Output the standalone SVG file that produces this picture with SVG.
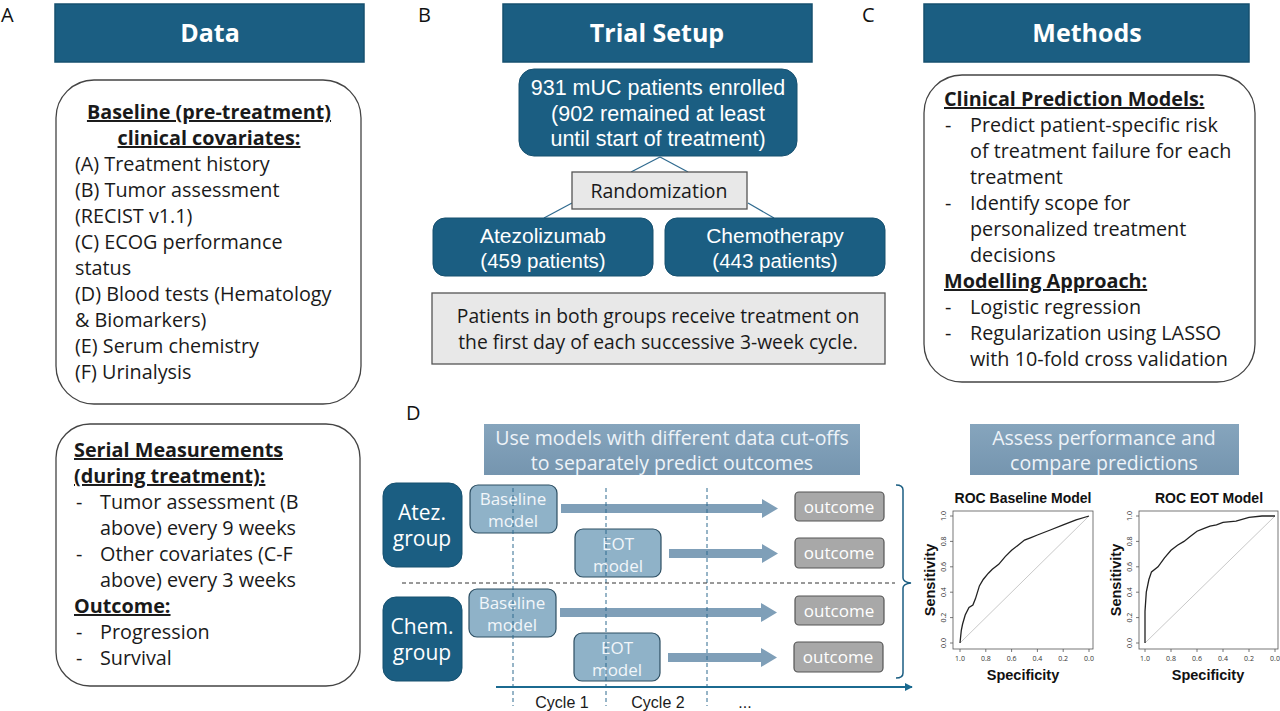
<svg xmlns="http://www.w3.org/2000/svg" width="1280" height="711" viewBox="0 0 1280 711">
<defs>
<style>
text{font-family:"Open Sans","Liberation Sans",Arial,sans-serif;}
.ar{font-family:"Liberation Sans",Arial,sans-serif;}
.lbl{font-size:20px;fill:#111;}
.hdr{fill:#1b5e82;stroke:#16506f;stroke-width:1.5;}
.hdrt{font-size:25px;font-weight:bold;fill:#fff;text-anchor:middle;}
.card{fill:#fff;stroke:#444;stroke-width:1.3;}
.t{font-size:19.8px;fill:#1a1a1a;}
.tb{font-size:19.8px;fill:#1a1a1a;font-weight:bold;text-decoration:underline;}
.dk{fill:#1b5e82;stroke:#16506f;stroke-width:1;}
.wt{fill:#fff;text-anchor:middle;}
.gr{fill:#e8e8e8;stroke:#555;stroke-width:1.3;}
.lb{fill:#8fb2c8;stroke:#2d4f63;stroke-width:1.2;}
.lbt{fill:#f2f6fa;font-size:17px;text-anchor:middle;}
.oc{fill:#a8a8a8;stroke:#555;stroke-width:1.2;}
.oct{fill:#fff;font-size:17px;text-anchor:middle;}
.arr{fill:#7f9fb8;}
.vd{stroke:#2f6a8f;stroke-width:1;stroke-dasharray:4,3;fill:none;}
.ax{fill:none;stroke:#555;stroke-width:0.8;}
.tk{font-size:7px;fill:#333;font-family:"Liberation Sans",Arial,sans-serif;}
.rt{font-size:14px;font-weight:bold;fill:#111;text-anchor:middle;font-family:"Liberation Sans",Arial,sans-serif;}
.rl{font-size:14.5px;font-weight:bold;fill:#111;text-anchor:middle;font-family:"Liberation Sans",Arial,sans-serif;}
</style>
<linearGradient id="hg" x1="0" y1="0" x2="0" y2="1">
<stop offset="0" stop-color="#86a5bd"/>
<stop offset="1" stop-color="#7595af"/>
</linearGradient>
<marker id="ah" viewBox="0 0 10 10" refX="9" refY="5" markerWidth="8" markerHeight="8" markerUnits="userSpaceOnUse" orient="auto">
<path d="M0,0 L10,5 L0,10 z" fill="#1b6a90"/>
</marker>
</defs>

<!-- Panel A -->
<g id="panelA">
<text class="lbl" x="1" y="22">A</text>
<g id="hdrData">
<rect class="hdr" x="55" y="4" width="309" height="58"/>
<text class="hdrt" x="210" y="42">Data</text>
</g>
<g id="baselineCard">
<rect class="card" x="56" y="80" width="305" height="324" rx="38"/>
<text class="tb" x="209" y="119" text-anchor="middle">Baseline (pre-treatment)</text>
<text class="tb" x="209" y="145" text-anchor="middle">clinical covariates:</text>
<text class="t" x="75" y="171">(A) Treatment history</text>
<text class="t" x="75" y="197">(B) Tumor assessment</text>
<text class="t" x="75" y="223">(RECIST v1.1)</text>
<text class="t" x="75" y="249">(C) ECOG performance</text>
<text class="t" x="75" y="275">status</text>
<text class="t" x="75" y="301">(D) Blood tests (Hematology</text>
<text class="t" x="75" y="327">&amp; Biomarkers)</text>
<text class="t" x="75" y="353">(E) Serum chemistry</text>
<text class="t" x="75" y="379">(F) Urinalysis</text>
</g>
<g id="serialCard">
<rect class="card" x="56" y="424" width="304" height="262" rx="34"/>
<text class="tb" x="74" y="457">Serial Measurements</text>
<text class="tb" x="74" y="483">(during treatment):</text>
<text class="t" x="76" y="509">-</text>
<text class="t" x="100" y="509">Tumor assessment (B</text>
<text class="t" x="100" y="535">above) every 9 weeks</text>
<text class="t" x="76" y="561">-</text>
<text class="t" x="100" y="561">Other covariates (C-F</text>
<text class="t" x="100" y="587">above) every 3 weeks</text>
<text class="tb" x="74" y="613">Outcome:</text>
<text class="t" x="76" y="639">-</text>
<text class="t" x="100" y="639">Progression</text>
<text class="t" x="76" y="665">-</text>
<text class="t" x="100" y="665">Survival</text>
</g>
</g>

<!-- Panel B -->
<g id="panelB">
<text class="lbl" x="418" y="22">B</text>
<g id="hdrTrial">
<rect class="hdr" x="503" y="4" width="309" height="58"/>
<text class="hdrt" x="657" y="42">Trial Setup</text>
</g>
<g id="connectorsB" stroke="#2f6a8f" stroke-width="1.2" fill="none">
<line x1="660" y1="157" x2="631" y2="172"/>
<line x1="660" y1="157" x2="688" y2="172"/>
<line x1="572" y1="203" x2="544" y2="218"/>
<line x1="748" y1="203" x2="774" y2="218"/>
</g>
<g id="enrolled">
<rect class="dk" x="519" y="69" width="278" height="87" rx="15"/>
<text class="wt ar" x="658" y="95" font-size="21.5">931 mUC patients enrolled</text>
<text class="wt ar" x="658" y="121" font-size="21.5">(902 remained at least</text>
<text class="wt ar" x="658" y="146" font-size="21.5">until start of treatment)</text>
</g>
<g id="randomization">
<rect class="gr" x="572" y="172" width="175" height="37"/>
<text x="659" y="198" font-size="19.5" fill="#1a1a1a" text-anchor="middle">Randomization</text>
</g>
<g id="atezo">
<rect class="dk" x="433" y="218" width="220" height="58" rx="12"/>
<text class="wt ar" x="543" y="243" font-size="21">Atezolizumab</text>
<text class="wt ar" x="543" y="268" font-size="20.5">(459 patients)</text>
</g>
<g id="chemo">
<rect class="dk" x="665" y="218" width="220" height="58" rx="12"/>
<text class="wt ar" x="775" y="243" font-size="21">Chemotherapy</text>
<text class="wt ar" x="775" y="268" font-size="20.5">(443 patients)</text>
</g>
<g id="patientsNote">
<rect class="gr" x="432" y="293" width="453" height="71"/>
<text x="658" y="323" font-size="19.3" fill="#1a1a1a" text-anchor="middle">Patients in both groups receive treatment on</text>
<text x="658" y="349" font-size="19.3" fill="#1a1a1a" text-anchor="middle">the first day of each successive 3-week cycle.</text>
</g>
</g>

<!-- Panel C -->
<g id="panelC">
<text class="lbl" x="862" y="22">C</text>
<g id="hdrMethods">
<rect class="hdr" x="924" y="4" width="325" height="58"/>
<text class="hdrt" x="1087" y="42">Methods</text>
</g>
<g id="methodsCard">
<rect class="card" x="924" y="75" width="331" height="307" rx="38"/>
<text class="tb" x="944" y="106">Clinical Prediction Models:</text>
<text class="t" x="945" y="132">-</text>
<text class="t" x="970" y="132">Predict patient-specific risk</text>
<text class="t" x="970" y="158">of treatment failure for each</text>
<text class="t" x="970" y="184">treatment</text>
<text class="t" x="945" y="210">-</text>
<text class="t" x="970" y="210">Identify scope for</text>
<text class="t" x="970" y="236">personalized treatment</text>
<text class="t" x="970" y="262">decisions</text>
<text class="tb" x="944" y="288">Modelling Approach:</text>
<text class="t" x="945" y="314">-</text>
<text class="t" x="970" y="314">Logistic regression</text>
<text class="t" x="945" y="340">-</text>
<text class="t" x="970" y="340">Regularization using LASSO</text>
<text class="t" x="970" y="366">with 10-fold cross validation</text>
</g>
</g>

<!-- Panel D -->
<g id="panelD">
<text class="lbl" x="406" y="420">D</text>
<g id="hdrUse">
<rect x="484" y="424" width="376" height="51" fill="url(#hg)"/>
<text x="672" y="445" font-size="19.5" fill="#eef3f8" text-anchor="middle">Use models with different data cut-offs</text>
<text x="672" y="470" font-size="19.5" fill="#eef3f8" text-anchor="middle">to separately predict outcomes</text>
</g>
<g id="hdrAssess">
<rect x="970" y="424" width="269" height="51" fill="url(#hg)"/>
<text x="1104" y="445" font-size="19.5" fill="#eef3f8" text-anchor="middle">Assess performance and</text>
<text x="1104" y="470" font-size="19.5" fill="#eef3f8" text-anchor="middle">compare predictions</text>
</g>

<g id="atezGroup">
<rect class="dk" x="383" y="483" width="79" height="84" rx="13"/>
<text class="wt" x="422" y="520" font-size="21">Atez.</text>
<text class="wt" x="422" y="546" font-size="21">group</text>
</g>
<g id="chemGroup">
<rect class="dk" x="383" y="597" width="79" height="84" rx="13"/>
<text class="wt" x="422" y="634" font-size="21">Chem.</text>
<text class="wt" x="422" y="660" font-size="21">group</text>
</g>

<g id="atezBaseline">
<rect class="lb" x="470" y="485" width="87" height="48" rx="8"/>
<text class="lbt" x="513" y="505">Baseline</text>
<text class="lbt" x="513" y="527">model</text>
</g>
<g id="atezEOT">
<rect class="lb" x="575" y="529" width="86" height="48" rx="8"/>
<text class="lbt" x="618" y="550">EOT</text>
<text class="lbt" x="618" y="572">model</text>
</g>
<g id="chemBaseline">
<rect class="lb" x="469" y="589" width="87" height="48" rx="8"/>
<text class="lbt" x="512" y="609">Baseline</text>
<text class="lbt" x="512" y="631">model</text>
</g>
<g id="chemEOT">
<rect class="lb" x="574" y="633" width="86" height="48" rx="8"/>
<text class="lbt" x="617" y="654">EOT</text>
<text class="lbt" x="617" y="676">model</text>
</g>

<g id="outcome1"><rect class="oc" x="795" y="492" width="89" height="29" rx="4"/><text class="oct" x="839" y="513">outcome</text></g>
<g id="outcome2"><rect class="oc" x="795" y="538" width="89" height="30" rx="4"/><text class="oct" x="839" y="559">outcome</text></g>
<g id="outcome3"><rect class="oc" x="795" y="596" width="89" height="29" rx="4"/><text class="oct" x="839" y="617">outcome</text></g>
<g id="outcome4"><rect class="oc" x="794" y="642" width="89" height="30" rx="4"/><text class="oct" x="838" y="663">outcome</text></g>

<g id="connectorsD">
<path class="arr" d="M561,504 L762,504 L762,499 L778,508.5 L762,518 L762,513 L561,513 z"/>
<path class="arr" d="M669,549 L762,549 L762,544 L778,553.5 L762,563 L762,558 L669,558 z"/>
<path class="arr" d="M560,608 L761,608 L761,603 L777,612.5 L761,622 L761,617 L560,617 z"/>
<path class="arr" d="M668,653 L761,653 L761,648 L777,657.5 L761,667 L761,662 L668,662 z"/>
<line class="vd" x1="513" y1="488" x2="513" y2="706"/>
<line class="vd" x1="606" y1="488" x2="606" y2="706"/>
<line class="vd" x1="707" y1="488" x2="707" y2="706"/>
<line x1="402" y1="583" x2="895" y2="583" stroke="#333" stroke-width="1" stroke-dasharray="4,3"/>
<path d="M896,485 Q903,485 903,490 L903,578 Q903,582 911,583 Q903,584 903,588 L903,673 Q903,678 896,678" fill="none" stroke="#1b5e82" stroke-width="1.5"/>
<line x1="496" y1="687" x2="912" y2="687" stroke="#1b6a90" stroke-width="2" marker-end="url(#ah)"/>
</g>

<g id="cycleLabels" font-size="16" fill="#1a1a1a">
<text class="ar" x="562" y="708" text-anchor="middle">Cycle 1</text>
<text class="ar" x="658" y="708" text-anchor="middle">Cycle 2</text>
<text class="ar" x="745" y="708" text-anchor="middle">...</text>
</g>

<!-- ROC Baseline -->
<g id="rocBaseline">
<text class="rt" x="1023" y="503">ROC Baseline Model</text>
<rect class="ax" x="953" y="511" width="140" height="138"/>
<line x1="960" y1="643" x2="1089" y2="516" stroke="#c8c8c8" stroke-width="1"/>
<g class="ax">
<line x1="960" y1="649" x2="960" y2="652"/><line x1="985.8" y1="649" x2="985.8" y2="652"/><line x1="1011.6" y1="649" x2="1011.6" y2="652"/><line x1="1037.4" y1="649" x2="1037.4" y2="652"/><line x1="1063.2" y1="649" x2="1063.2" y2="652"/><line x1="1089" y1="649" x2="1089" y2="652"/>
<line x1="950" y1="643" x2="953" y2="643"/><line x1="950" y1="617.6" x2="953" y2="617.6"/><line x1="950" y1="592.2" x2="953" y2="592.2"/><line x1="950" y1="566.8" x2="953" y2="566.8"/><line x1="950" y1="541.4" x2="953" y2="541.4"/><line x1="950" y1="516" x2="953" y2="516"/>
</g>
<g class="tk" text-anchor="middle">
<text x="960" y="661">1.0</text><text x="985.8" y="661">0.8</text><text x="1011.6" y="661">0.6</text><text x="1037.4" y="661">0.4</text><text x="1063.2" y="661">0.2</text><text x="1089" y="661">0.0</text>
<text transform="translate(946,643) rotate(-90)">0.0</text><text transform="translate(946,617.6) rotate(-90)">0.2</text><text transform="translate(946,592.2) rotate(-90)">0.4</text><text transform="translate(946,566.8) rotate(-90)">0.6</text><text transform="translate(946,541.4) rotate(-90)">0.8</text><text transform="translate(946,516) rotate(-90)">1.0</text>
</g>
<polyline fill="none" stroke="#222" stroke-width="1.3" points="960,643 961.3,630.3 962.6,624 965.2,615 969,607.4 972.9,605 975.5,598.6 979.4,585.9 983.2,579.5 988.4,573.2 992.3,569.3 998.7,564.3 1005.2,556.6 1011.6,550.3 1018.1,545.2 1024.5,540.1 1031,537.6 1037.4,535 1050.3,530 1063.2,524.9 1076.1,519.8 1089,516"/>
<text class="rl" transform="translate(935,580) rotate(-90)">Sensitivity</text>
<text class="rl" x="1023" y="680">Specificity</text>
</g>

<!-- ROC EOT -->
<g id="rocEOT">
<text class="rt" x="1209" y="503">ROC EOT Model</text>
<rect class="ax" x="1139" y="511" width="139" height="138"/>
<line x1="1145" y1="643" x2="1275" y2="516" stroke="#c8c8c8" stroke-width="1"/>
<g class="ax">
<line x1="1145" y1="649" x2="1145" y2="652"/><line x1="1171" y1="649" x2="1171" y2="652"/><line x1="1197" y1="649" x2="1197" y2="652"/><line x1="1223" y1="649" x2="1223" y2="652"/><line x1="1249" y1="649" x2="1249" y2="652"/><line x1="1275" y1="649" x2="1275" y2="652"/>
<line x1="1136" y1="643" x2="1139" y2="643"/><line x1="1136" y1="617.6" x2="1139" y2="617.6"/><line x1="1136" y1="592.2" x2="1139" y2="592.2"/><line x1="1136" y1="566.8" x2="1139" y2="566.8"/><line x1="1136" y1="541.4" x2="1139" y2="541.4"/><line x1="1136" y1="516" x2="1139" y2="516"/>
</g>
<g class="tk" text-anchor="middle">
<text x="1145" y="661">1.0</text><text x="1171" y="661">0.8</text><text x="1197" y="661">0.6</text><text x="1223" y="661">0.4</text><text x="1249" y="661">0.2</text><text x="1275" y="661">0.0</text>
<text transform="translate(1132,643) rotate(-90)">0.0</text><text transform="translate(1132,617.6) rotate(-90)">0.2</text><text transform="translate(1132,592.2) rotate(-90)">0.4</text><text transform="translate(1132,566.8) rotate(-90)">0.6</text><text transform="translate(1132,541.4) rotate(-90)">0.8</text><text transform="translate(1132,516) rotate(-90)">1.0</text>
</g>
<polyline fill="none" stroke="#222" stroke-width="1.3" points="1145,643 1145,611.3 1146.3,592.2 1148.9,579.5 1151.5,571.9 1158,566.8 1164.5,557.9 1171,550.3 1177.5,545.2 1184,541.4 1190.5,536.3 1197,531.2 1203.5,528.7 1210,526.2 1216.5,524.9 1223,522.4 1236,521.1 1249,517.3 1262,516 1275,516"/>
<text class="rl" transform="translate(1121,580) rotate(-90)">Sensitivity</text>
<text class="rl" x="1208" y="680">Specificity</text>
</g>
</g>
</svg>
